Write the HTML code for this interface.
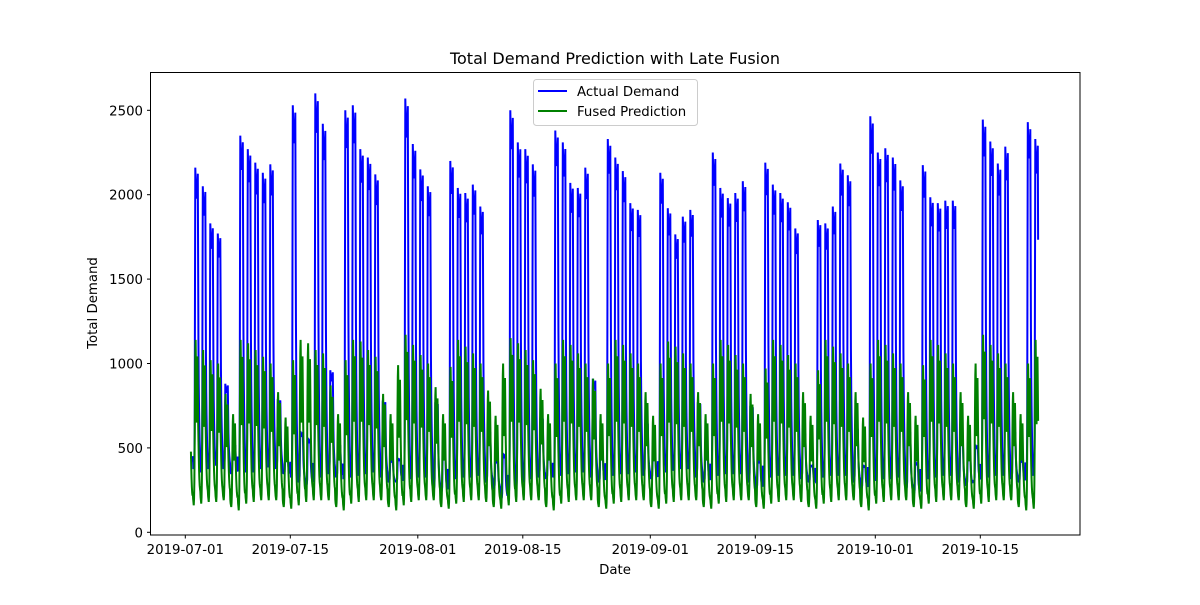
<!DOCTYPE html>
<html><head><meta charset="utf-8"><style>
body{margin:0;background:#fff;}
svg{font-family:"DejaVu Sans","Liberation Sans",sans-serif;}
</style></head><body>
<svg id="chart" width="1200" height="600" viewBox="0 0 1200 600">
<rect width="1200" height="600" fill="#fff"/>
<text x="615" y="64" font-size="16" text-anchor="middle">Total Demand Prediction with Late Fusion</text>
<g id="series"></g>
<rect x="150.5" y="72.5" width="929.5" height="462.5" fill="none" stroke="#000" stroke-width="1"/>
<g id="xticks"></g>
<g id="yticks"></g>
<text x="615" y="574" font-size="13.3" text-anchor="middle">Date</text>
<text transform="translate(97,303) rotate(-90)" font-size="13.3" text-anchor="middle">Total Demand</text>
<g>
<rect x="533.5" y="79.5" width="164" height="46" rx="3" fill="#fff" fill-opacity="0.8" stroke="#ccc"/>
<g>
<line x1="538" y1="91" x2="567" y2="91" stroke="#0000ff" stroke-width="2"/>
<text x="577" y="96" font-size="13.3">Actual Demand</text></g>
<g>
<line x1="538" y1="111" x2="567" y2="111" stroke="#008000" stroke-width="2"/>
<text x="577" y="116" font-size="13.3">Fused Prediction</text></g>
</g>
</svg>
<script>
const yTicks = [0, 500, 1000, 1500, 2000, 2500];
const xTickLabels = ["2019-07-01","2019-07-15","2019-08-01","2019-08-15","2019-09-01","2019-09-15","2019-10-01","2019-10-15"];
const xTickDays = [0, 14, 31, 45, 62, 76, 92, 106];
const actualPeak = [490,2160,2050,1830,1770,880,520, 2350,2270,2190,2130,2180,790,440,
 2530,600,560,2600,2420,960,520, 2500,2530,2270,2220,2120,780,430,
 440,2570,2300,2150,2050,770,480, 2200,2040,2010,2060,1930,600,430,
 470,2500,2310,2270,2180,680,450, 2380,2310,2070,2040,2160,910,460,
 2330,2220,2140,1950,1910,650,450, 2130,1920,1765,1870,1910,770,450,
 2250,2040,1980,2010,2080,750,430, 2190,2060,2010,1955,1800,590,400,
 1850,1830,1930,2185,2115,620,400, 2465,2250,2275,2220,2085,600,420,
 2175,1985,1950,1965,1965,560,460, 520,2445,2315,2185,2285,600,430,
 2430,2330];
const actualBase = [420,380,360,380,400,380,350, 370,360,360,380,390,380,350,
 330,300,280,320,330,350,330, 320,330,340,350,360,330,300,
 300,310,320,330,330,260,240, 300,320,330,330,340,300,260,
 200,250,280,300,320,330,320, 330,340,350,360,360,330,300,
 330,340,350,350,360,340,320, 350,360,370,380,380,330,300,
 330,340,350,350,350,300,260, 320,330,340,340,340,320,300,
 320,330,340,340,340,300,260, 300,310,320,320,330,260,230,
 300,320,330,340,340,300,280, 300,320,330,340,340,320,300,
 330,340];
const predPeak = [1000,1140,1080,1020,1000,820,700, 1140,1120,1080,1040,1000,830,680,
 1020,1140,1120,1080,1060,870,700, 1020,1140,1130,1080,1040,820,700,
 990,1170,1110,1050,1000,860,700, 980,1140,1100,1060,1000,840,690,
 1000,1150,1120,1080,1020,850,700, 1000,1140,1110,1060,1000,910,700,
 1000,1140,1110,1060,1000,830,690, 1000,1130,1100,1060,1000,830,700,
 1000,1140,1110,1050,1000,820,700, 970,1140,1110,1050,1000,830,690,
 960,1140,1100,1060,1000,830,680, 1000,1140,1110,1060,1000,830,690,
 990,1140,1110,1060,1000,830,690, 1000,1170,1110,1060,1000,830,700,
 1000,1140];
const predBase = [130,160,170,180,180,190,150, 130,170,180,190,190,190,150,
 140,160,180,190,190,190,150, 130,170,180,190,190,190,150,
 130,160,180,190,190,190,150, 140,170,180,190,190,180,150,
 140,160,180,190,190,190,150, 130,170,180,190,190,190,150,
 140,170,180,190,190,190,150, 140,170,180,190,190,190,150,
 140,170,180,190,190,190,150, 140,170,180,190,190,180,150,
 140,170,180,190,190,190,150, 130,170,180,190,190,190,150,
 140,170,180,190,190,190,150, 140,170,180,190,190,190,150,
 130,140];
const actualShape = [0.04,0.02,0,0,0,0.03,0.12,0.6,1.0,0.96,0.92,0.9,0.9,0.91,0.93,0.95,0.98,0.7,0.42,0.28,0.2,0.14,0.09,0.06];
const predShape = [0.08,0.04,0.02,0,0.04,0.14,0.38,0.68,0.92,1.0,0.85,0.62,0.5,0.6,0.78,0.9,0.72,0.52,0.4,0.3,0.22,0.16,0.12,0.1];

const X0 = 185.3, PXD = 7.5, Y0 = 532.3, PXV = 0.1688;
const xS = d => X0 + d * PXD;
const yS = v => Y0 - v * PXV;
const NS = "http://www.w3.org/2000/svg";
const startH = 18, endH = 113 * 24 + 17;

function seriesPoints(peak, base, shape) {
  const pts = [];
  for (let h = startH; h <= endH; h++) {
    const d = Math.floor(h / 24), hr = h % 24;
    const v = base[d] + (peak[d] - base[d]) * shape[hr];
    pts.push(xS(h / 24).toFixed(2) + "," + yS(v).toFixed(2));
  }
  return pts.join(" ");
}
const g = document.getElementById("series");
const pa = document.createElementNS(NS, "polyline");
pa.setAttribute("points", seriesPoints(actualPeak, actualBase, actualShape));
pa.setAttribute("fill", "none"); pa.setAttribute("stroke", "#0000ff"); pa.setAttribute("stroke-width", "2");


g.appendChild(pa);
const pp = document.createElementNS(NS, "polyline");
pp.setAttribute("points", seriesPoints(predPeak, predBase, predShape));
pp.setAttribute("fill", "none"); pp.setAttribute("stroke", "#008000"); pp.setAttribute("stroke-width", "2");


g.appendChild(pp);

const xg = document.getElementById("xticks");
xTickLabels.forEach((lab, i) => {
  const x = xS(xTickDays[i]);
  const t = document.createElementNS(NS, "line");
  t.setAttribute("x1", x); t.setAttribute("x2", x); t.setAttribute("y1", 535); t.setAttribute("y2", 538.5);
  t.setAttribute("stroke", "#000");
  
  
  xg.appendChild(t);
  const tx = document.createElementNS(NS, "text");
  tx.setAttribute("x", x); tx.setAttribute("y", 554); tx.setAttribute("font-size", "13.3"); tx.setAttribute("text-anchor", "middle");
  tx.textContent = lab;
  
  
  xg.appendChild(tx);
});
const yg = document.getElementById("yticks");
yTicks.forEach(v => {
  const y = yS(v);
  const t = document.createElementNS(NS, "line");
  t.setAttribute("x1", 147); t.setAttribute("x2", 150.5); t.setAttribute("y1", y); t.setAttribute("y2", y);
  t.setAttribute("stroke", "#000");
  
  
  yg.appendChild(t);
  const tx = document.createElementNS(NS, "text");
  tx.setAttribute("x", 143); tx.setAttribute("y", y + 5); tx.setAttribute("font-size", "13.3"); tx.setAttribute("text-anchor", "end");
  tx.textContent = v;
  
  
  yg.appendChild(tx);
});
</script>
</body></html>
